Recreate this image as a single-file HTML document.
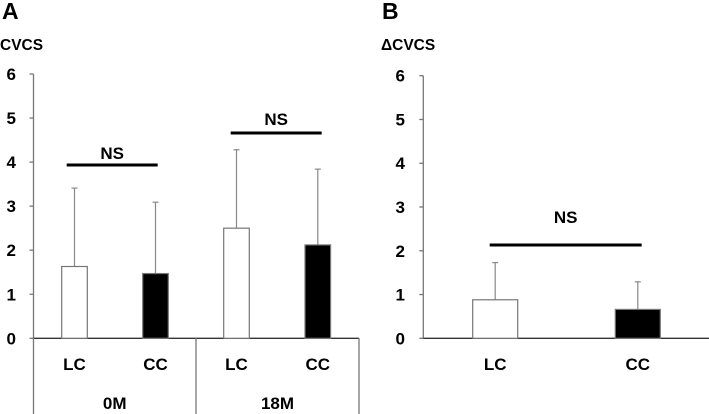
<!DOCTYPE html>
<html><head><meta charset="utf-8"><style>
html,body{margin:0;padding:0;background:#fff;}
svg{display:block;font-family:"Liberation Sans",sans-serif;font-weight:bold;}
</style></head><body>
<svg id="c" width="709" height="414" viewBox="0 0 709 414" xmlns="http://www.w3.org/2000/svg"></svg>
<script>
const ticks=[0,1,2,3,4,5,6];
const groupsA=["0M","18M"];
const catsA=["LC","CC","LC","CC"];
const meansA=[1.63,1.47,2.50,2.12];
const errTopA=[3.41,3.09,4.28,3.84];
const catsB=["LC","CC"];
const meansB=[0.88,0.66];
const errTopB=[1.73,1.29];
const NS="http://www.w3.org/2000/svg";
const svg=document.getElementById('c');
function el(t,a,txt){const e=document.createElementNS(NS,t);for(const k in a)e.setAttribute(k,a[k]);if(txt!=null)e.textContent=txt;svg.appendChild(e);return e;}
function panel(ax,y0,y6,xEnd,tickRight){
  const y=v=>y0-(y0-y6)*v/6;
  const a=el('line',{x1:ax,y1:y6,x2:ax,y2:y0,stroke:'#777','stroke-width':1.3});
  
  
  ticks.forEach(t=>{
    const tk=el('line',{x1:ax-4,y1:y(t),x2:ax,y2:y(t),stroke:'#777','stroke-width':1.3});
    
    
    const lb=el('text',{x:tickRight,y:y(t)+6,'text-anchor':'end','font-size':17},String(t));
    
    
  });
  const xa=el('line',{x1:ax,y1:y0,x2:xEnd,y2:y0,stroke:'#333','stroke-width':1.3});
  
  
  return y;
}
function bars(y,cats,means,errs,xs,w){
  cats.forEach((c,i)=>{
    const x=xs[i];
    const eb=el('line',{x1:x+w/2,y1:y(means[i]),x2:x+w/2,y2:y(errs[i]),stroke:'#888','stroke-width':1.2});
    
    
    const cp=el('line',{x1:x+w/2-3,y1:y(errs[i]),x2:x+w/2+3,y2:y(errs[i]),stroke:'#888','stroke-width':1.2});
    
    
    const r=el('rect',{x:x,y:y(means[i]),width:w,height:y(0)-y(means[i]),fill:c==="LC"?'#fff':'#000',stroke:'#777','stroke-width':1.2});
    
    
    const t=el('text',{x:x+w/2,y:370,'text-anchor':'middle','font-size':17},c);
    
    
  });
}
function nsMark(x1,x2,ly,ty){
  const l=el('line',{x1:x1,y1:ly,x2:x2,y2:ly,stroke:'#000','stroke-width':3});
  
  
  const t=el('text',{x:(x1+x2)/2,y:ty,'text-anchor':'middle','font-size':17},'NS');
  
  
}
// Panel A
let t=el('text',{x:2,y:19,'font-size':23},'A');

t=el('text',{x:0,y:50,'font-size':15.5},'CVCS');

const yA=panel(33.5,338.3,74,359,16);
bars(yA,catsA,meansA,errTopA,[61.7,142.7,223.7,305],25.6);
[33.5,196,359].forEach(x=>{const l=el('line',{x1:x,y1:338,x2:x,y2:414,stroke:'#777','stroke-width':1.3});
});
groupsA.forEach((g,i)=>{const tx=el('text',{x:[114.7,277.5][i],y:409,'text-anchor':'middle','font-size':17},g);
});
nsMark(66.7,157.7,165,159);
nsMark(230.7,321.7,133,125);
// Panel B
t=el('text',{x:382,y:19,'font-size':23},'B');

t=el('text',{x:381,y:50,'font-size':15.5},'ΔCVCS');

const yB=panel(423.3,338.3,75.7,709,405);
bars(yB,catsB,meansB,errTopB,[472.7,615.3],45);
nsMark(489.7,641.7,245,223);
</script>
</body></html>
